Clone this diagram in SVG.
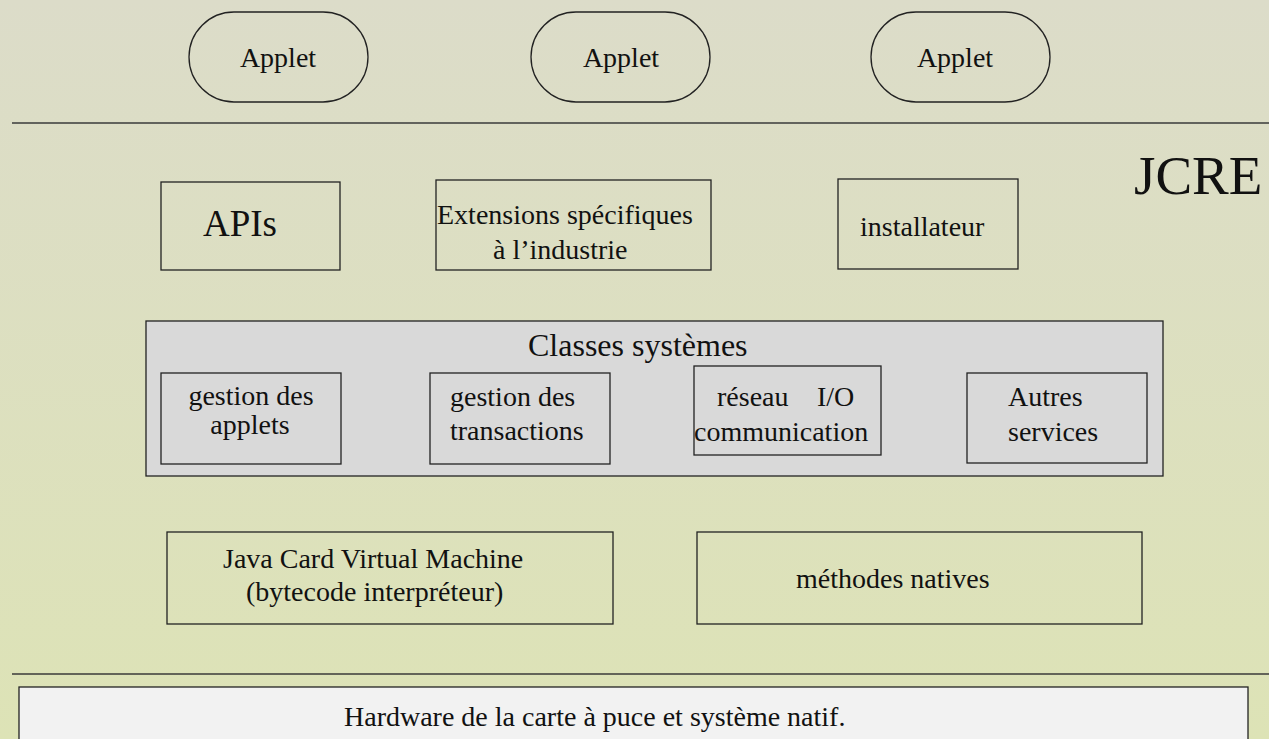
<svg xmlns="http://www.w3.org/2000/svg" width="1269" height="739" viewBox="0 0 1269 739">
<defs>
<linearGradient id="bg" x1="0" y1="0" x2="0" y2="1">
<stop offset="0" stop-color="#dcdcc9"/>
<stop offset="1" stop-color="#dde3b6"/>
</linearGradient>
<style>
text{font-family:"Liberation Serif","Times New Roman",serif;fill:#111;font-size:28px}
.box{fill:none;stroke:#222;stroke-width:1.3}
.pill{fill:none;stroke:#222;stroke-width:1.3}
.sep{stroke:#3a3a3a;stroke-width:1.6}
</style>
</defs>
<rect x="0" y="0" width="1269" height="739" fill="url(#bg)"/>
<g id="connectors">
<line class="sep" x1="12" y1="123" x2="1269" y2="123"/>
<line class="sep" x1="12" y1="674" x2="1269" y2="674"/>
</g>
<g id="applet1"><rect class="pill" x="189" y="12" width="179" height="90" rx="45" ry="45"/><text x="278" y="67" text-anchor="middle">Applet</text></g>
<g id="applet2"><rect class="pill" x="531" y="12" width="179" height="90" rx="45" ry="45"/><text x="621" y="67" text-anchor="middle">Applet</text></g>
<g id="applet3"><rect class="pill" x="871" y="12" width="179" height="90" rx="45" ry="45"/><text x="955" y="67" text-anchor="middle">Applet</text></g>
<g id="jcre"><text x="1134" y="194" style="font-size:55px">JCRE</text></g>
<g id="apis"><rect class="box" x="161" y="182" width="179" height="88"/><text x="203" y="236" style="font-size:37px">APIs</text></g>
<g id="extensions"><rect class="box" x="436" y="180" width="275" height="90"/><text x="437" y="224">Extensions spécifiques</text><text x="493" y="259">à l’industrie</text></g>
<g id="installateur"><rect class="box" x="838" y="179" width="180" height="90"/><text x="860" y="236">installateur</text></g>
<g id="classes"><rect x="146" y="321" width="1017" height="155" fill="#d9d9d9" stroke="#222" stroke-width="1.3"/><text x="528" y="356" style="font-size:32px">Classes systèmes</text></g>
<g id="gestion-applets"><rect class="box" x="161" y="373" width="180" height="91"/><text x="251" y="405" text-anchor="middle">gestion des</text><text x="250" y="434" text-anchor="middle">applets</text></g>
<g id="gestion-transactions"><rect class="box" x="430" y="373" width="180" height="91"/><text x="450" y="406">gestion des</text><text x="450" y="440">transactions</text></g>
<g id="reseau"><rect class="box" x="694" y="366" width="187" height="89"/><text x="717" y="406">réseau</text><text x="817" y="406">I/O</text><text x="694" y="441">communication</text></g>
<g id="autres"><rect class="box" x="967" y="373" width="180" height="90"/><text x="1008" y="406">Autres</text><text x="1008" y="441">services</text></g>
<g id="jcvm"><rect class="box" x="167" y="532" width="446" height="92"/><text x="223" y="568">Java Card Virtual Machine</text><text x="246" y="601">(bytecode interpréteur)</text></g>
<g id="natives"><rect class="box" x="697" y="532" width="445" height="92"/><text x="796" y="588">méthodes natives</text></g>
<g id="hardware"><rect x="19" y="687" width="1229" height="60" fill="#f2f2f2" stroke="#222" stroke-width="1.3"/><text x="344" y="726">Hardware de la carte à puce et système natif.</text></g>
</svg>
